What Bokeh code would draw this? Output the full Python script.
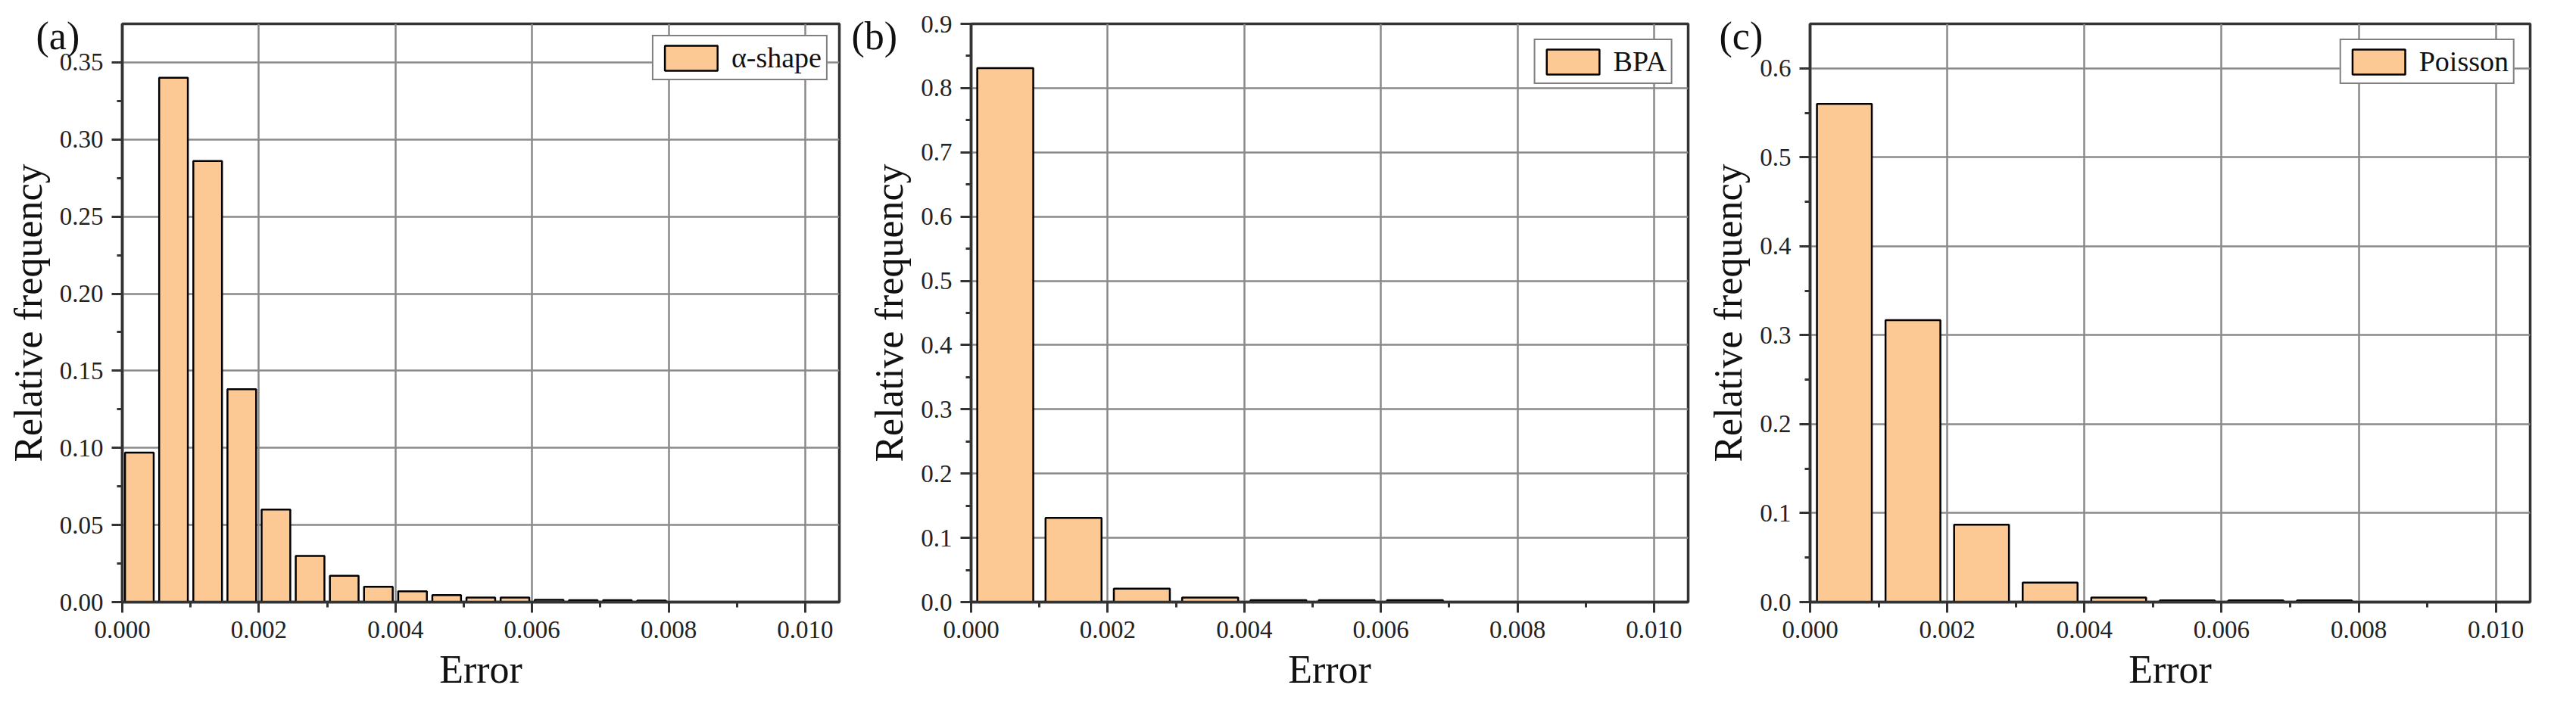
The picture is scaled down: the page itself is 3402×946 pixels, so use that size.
from bokeh.plotting import figure
from bokeh.layouts import row
from bokeh.models import Range1d, SingleIntervalTicker, NumeralTickFormatter, Title
from bokeh.embed import file_html
from bokeh.resources import INLINE

# ---------------- data ----------------
alpha_bins = [0.00025, 0.00075, 0.00125, 0.00175, 0.00225, 0.00275, 0.00325, 0.00375,
              0.00425, 0.00475, 0.00525, 0.00575, 0.00625, 0.00675, 0.00725, 0.00775]
alpha_freq = [0.097, 0.340, 0.286, 0.138, 0.060, 0.030, 0.017, 0.010,
              0.007, 0.0045, 0.003, 0.003, 0.0015, 0.0012, 0.0012, 0.001]

bpa_bins = [0.0005, 0.0015, 0.0025, 0.0035, 0.0045, 0.0055, 0.0065]
bpa_freq = [0.831, 0.131, 0.021, 0.007, 0.003, 0.003, 0.003]

poisson_bins = [0.0005, 0.0015, 0.0025, 0.0035, 0.0045, 0.0055, 0.0065, 0.0075]
poisson_freq = [0.560, 0.317, 0.087, 0.022, 0.005, 0.002, 0.002, 0.002]

x_label = "Error"
y_label = "Relative frequency"
panel_tags = ["(a)", "(b)", "(c)"]
series_names = ["\u03b1-shape", "BPA", "Poisson"]

SERIF = "Liberation Serif"
BAR = "#FCC995"
DARK = "#333333"


def make_panel(bins, freq, bar_w, name, tag, ymax, y_major, y_fmt,
               width, left, right, legend_margin, tag_offset):
    p = figure(width=width, height=935,
               x_range=Range1d(0, 0.0105), y_range=Range1d(0, ymax),
               output_backend="svg", toolbar_location=None,
               min_border_left=left, min_border_right=right,
               min_border_top=31, min_border_bottom=140)
    p.background_fill_color = "white"
    p.border_fill_color = "white"
    p.outline_line_color = DARK
    p.outline_line_width = 3.5

    p.vbar(x=bins, top=freq, width=bar_w, bottom=0,
           fill_color=BAR, line_color="black", line_width=2.5,
           legend_label=name)

    xt = SingleIntervalTicker(interval=0.002, num_minor_ticks=2)
    yt = SingleIntervalTicker(interval=y_major, num_minor_ticks=2)
    p.xaxis.ticker = xt
    p.xgrid.ticker = xt
    p.yaxis.ticker = yt
    p.ygrid.ticker = yt
    p.xaxis.formatter = NumeralTickFormatter(format="0.000")
    p.yaxis.formatter = NumeralTickFormatter(format=y_fmt)

    p.grid.grid_line_color = "#8a8a8a"
    p.grid.grid_line_width = 2.5

    for ax in (p.xaxis, p.yaxis):
        ax.axis_line_color = DARK
        ax.axis_line_width = 3.5
        ax.major_tick_line_color = DARK
        ax.major_tick_line_width = 3
        ax.minor_tick_line_color = DARK
        ax.minor_tick_line_width = 3
        ax.major_tick_in = 0
        ax.major_tick_out = 14
        ax.minor_tick_in = 0
        ax.minor_tick_out = 7
        ax.major_label_text_font = SERIF
        ax.major_label_text_font_size = "33px"
        ax.major_label_text_color = "#222222"
        ax.major_label_standoff = 11
        ax.axis_label_text_font = SERIF
        ax.axis_label_text_font_size = "52px"
        ax.axis_label_text_font_style = "normal"
        ax.axis_label_text_color = "#111111"
        ax.axis_label_standoff = 10
    p.xaxis.axis_label = x_label
    p.yaxis.axis_label = y_label

    lg = p.legend[0]
    lg.location = "top_right"
    lg.margin = legend_margin
    lg.padding = 6
    lg.spacing = 0
    lg.glyph_width = 87
    lg.glyph_height = 41
    lg.label_standoff = 10
    lg.label_text_font = SERIF
    lg.label_text_font_size = "38px"
    lg.label_text_color = "#111111"
    lg.border_line_color = "black"
    lg.border_line_width = 2.5
    lg.background_fill_color = "white"
    lg.background_fill_alpha = 1.0

    # panel tag, drawn in the top border panel (not clipped to the frame)
    p.add_layout(Title(text=tag, text_font=SERIF, text_font_size="52px",
                       text_font_style="normal", text_color="#111111",
                       align="left", vertical_align="bottom",
                       offset=tag_offset, standoff=-88), "above")
    return p


pa = make_panel(alpha_bins, alpha_freq, 0.00042, series_names[0], panel_tags[0],
                0.375, 0.05, "0.00",
                width=1112, left=161, right=4, legend_margin=15, tag_offset=-114)
pb = make_panel(bpa_bins, bpa_freq, 0.00082, series_names[1], panel_tags[1],
                0.9, 0.1, "0.0",
                width=1138, left=170, right=21, legend_margin=20, tag_offset=-158)
pc = make_panel(poisson_bins, poisson_freq, 0.0008, series_names[2], panel_tags[2],
                0.65, 0.1, "0.0",
                width=1136, left=140, right=45, legend_margin=20, tag_offset=-120)

layout = row(pa, pb, pc, spacing=0)
open("out.html", "w").write(file_html(layout, INLINE))
